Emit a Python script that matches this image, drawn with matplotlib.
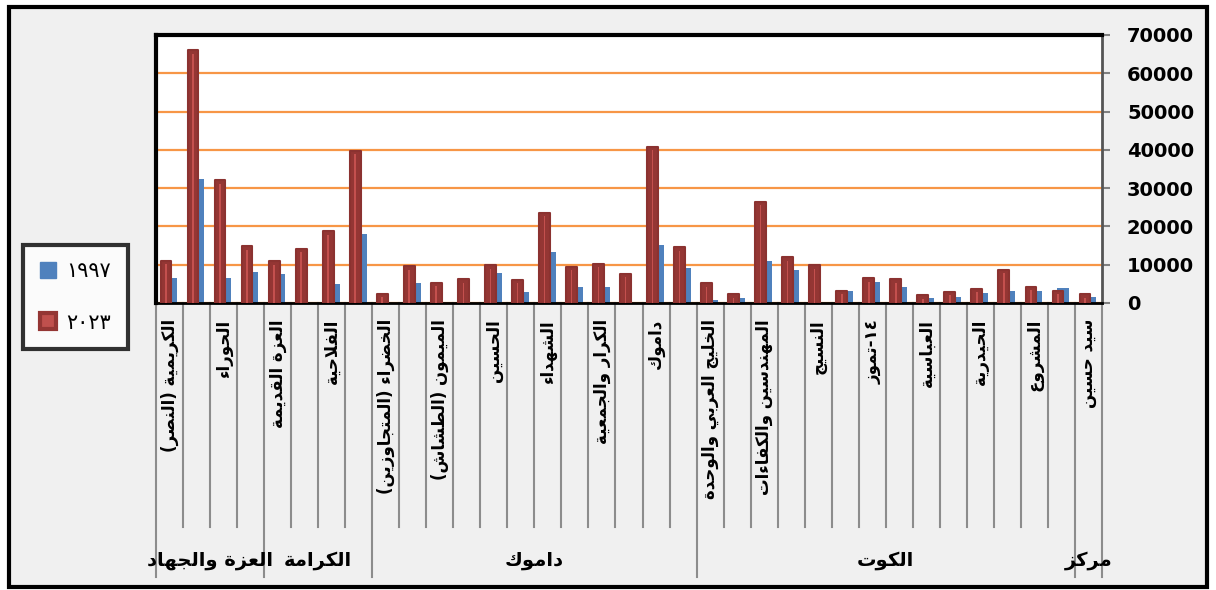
import re
import numpy as np
import matplotlib
matplotlib.use('Agg')
import matplotlib.pyplot as plt
import matplotlib.transforms as mtransforms
from matplotlib.patches import Rectangle, Patch

# ---- data ----
cat_labels = ['الكريمية (النصر)', '', 'الحوراء', '', 'العزة القديمة', '', 'الفلاحية', '',
              'الخضراء (المتجاوزين)', '', 'الميمون (الطشاش)', '', 'الحسين', '', 'الشهداء', '',
              'الكرار والجمعية', '', 'داموك', '', 'الخليج العربي والوحدة', '',
              'المهندسين والكفاءات', '', 'النسيج', '', '١٤-تموز', '', 'العباسية', '',
              'الحيدرية', '', 'المشروع', '', 'سيد حسين']
group_names = ['العزة والجهاد', 'الكرامة', 'داموك', 'الكوت', 'مركز']
group_sizes = [4, 4, 12, 14, 1]

pop_2023 = [11000, 66000, 32000, 14800, 10900, 14200, 18700, 39700, 2400, 9600,
            5300, 6200, 9900, 6000, 23500, 9500, 10200, 7700, 40800, 14500,
            5200, 2300, 26400, 12000, 9900, 3200, 6500, 6200, 2000, 2900,
            3700, 8700, 4200, 3200, 2300]
pop_1997 = [6500, 32400, 6500, 8200, 7600, 0, 5000, 18000, 0, 5200,
            0, 0, 7800, 2900, 13400, 4300, 4300, 0, 15200, 9200,
            800, 1200, 11000, 8500, 0, 3200, 5500, 4300, 1200, 1600,
            2700, 3200, 3200, 4000, 1500]
series_names = ['١٩٩٧', '٢٠٢٣']
y_ticks = [0, 10000, 20000, 30000, 40000, 50000, 60000, 70000]

# ---- tiny arabic shaper (matplotlib has no complex text layout) ----
FORMS = {'ء': (0xFE80, 1), 'آ': (0xFE81, 2), 'أ': (0xFE83, 2), 'ؤ': (0xFE85, 2),
         'إ': (0xFE87, 2), 'ئ': (0xFE89, 4), 'ا': (0xFE8D, 2), 'ب': (0xFE8F, 4),
         'ة': (0xFE93, 2), 'ت': (0xFE95, 4), 'ث': (0xFE99, 4), 'ج': (0xFE9D, 4),
         'ح': (0xFEA1, 4), 'خ': (0xFEA5, 4), 'د': (0xFEA9, 2), 'ذ': (0xFEAB, 2),
         'ر': (0xFEAD, 2), 'ز': (0xFEAF, 2), 'س': (0xFEB1, 4), 'ش': (0xFEB5, 4),
         'ص': (0xFEB9, 4), 'ض': (0xFEBD, 4), 'ط': (0xFEC1, 4), 'ظ': (0xFEC5, 4),
         'ع': (0xFEC9, 4), 'غ': (0xFECD, 4), 'ف': (0xFED1, 4), 'ق': (0xFED5, 4),
         'ك': (0xFED9, 4), 'ل': (0xFEDD, 4), 'م': (0xFEE1, 4), 'ن': (0xFEE5, 4),
         'ه': (0xFEE9, 4), 'و': (0xFEED, 2), 'ى': (0xFEEF, 2), 'ي': (0xFEF1, 4)}
LAM_ALEF = {'ا': 0xFEFB, 'أ': 0xFEF7, 'إ': 0xFEF9, 'آ': 0xFEF5}


def joins_left(c):
    return c in FORMS and FORMS[c][1] == 4


def joins_right(c):
    return c in FORMS and FORMS[c][1] >= 2


def shape(s):
    out = []
    i = 0
    while i < len(s):
        c = s[i]
        if c not in FORMS:
            out.append(c)
            i += 1
            continue
        prev = s[i - 1] if i > 0 else ''
        link_prev = joins_left(prev) and joins_right(c)
        if c == 'ل' and i + 1 < len(s) and s[i + 1] in LAM_ALEF:
            out.append(chr(LAM_ALEF[s[i + 1]] + (1 if link_prev else 0)))
            i += 2
            continue
        nxt = s[i + 1] if i + 1 < len(s) else ''
        link_next = joins_left(c) and joins_right(nxt)
        start = FORMS[c][0]
        if link_prev and link_next:
            code = start + 3
        elif link_prev:
            code = start + 1
        elif link_next:
            code = start + 2
        else:
            code = start
        out.append(chr(code))
        i += 1
    return ''.join(out)


def visual(s):
    tokens = re.findall(r'[0-9\u0660-\u0669]+|.', shape(s))
    mirror = {'(': ')', ')': '('}
    return ''.join(mirror.get(t, t) for t in tokens[::-1])


plt.rcParams['font.family'] = ['DejaVu Sans']

W, H = 1216, 590
fig = plt.figure(figsize=(W / 100, H / 100), dpi=100)
fig.patch.set_facecolor('white')
fig.add_artist(Rectangle((9 / W, 1 - 587 / H), (1207 - 9) / W, (587 - 7) / H,
                         transform=fig.transFigure, facecolor='#F0F0F0',
                         edgecolor='black', linewidth=3, zorder=-1))

ax = fig.add_axes([156 / W, 1 - 303 / H, (1102 - 156) / W, (303 - 35) / H])
ax.set_facecolor('white')

x = np.arange(len(pop_2023))
ax.bar(x + 0.07, pop_1997, width=0.44, color='#4F81BD', zorder=2)
ax.bar(x - 0.13, pop_2023, width=0.40, color='#943634', edgecolor='#8B3230',
       linewidth=1.5, joinstyle='round', zorder=3)
ax.bar(x - 0.13, np.maximum(np.array(pop_2023) - 900, 0), width=0.06,
       color='#C4504E', zorder=4)

ax.set_xlim(-0.5, len(x) - 0.5)
ax.set_ylim(0, 70000)
ax.set_yticks(y_ticks)
ax.yaxis.grid(True, color='#F79646', linewidth=1.6)
ax.set_axisbelow(True)
ax.yaxis.tick_right()
ax.tick_params(axis='y', length=6, width=1.5, color='#808080', pad=12, labelsize=14)
for t in ax.get_yticklabels():
    t.set_fontweight('bold')
ax.tick_params(axis='x', bottom=False, labelbottom=False)

ax.spines['top'].set_linewidth(3)
ax.spines['left'].set_linewidth(3)
ax.spines['bottom'].set_linewidth(2)
ax.spines['right'].set_linewidth(2)
ax.spines['right'].set_color('#555555')

# multi-level category axis
trans = mtransforms.blended_transform_factory(ax.transData, ax.transAxes)
group_edges = np.concatenate([[0], np.cumsum(group_sizes)]) - 0.5
for b in np.arange(len(x) + 1) - 0.5:
    low = -1.022 if b in group_edges else -0.836
    ax.plot([b, b], [0, low], transform=trans, color='#8C8C8C', lw=1.5, clip_on=False)

for i, lbl in enumerate(cat_labels):
    if lbl:
        ax.text(i, -0.06, visual(lbl), transform=trans, rotation=90, ha='center',
                va='top', fontsize=12, fontweight='bold')

for k, name in enumerate(group_names):
    mid = (group_edges[k] + group_edges[k + 1]) / 2
    ax.text(mid, -0.959, visual(name), transform=trans, ha='center', va='center',
            fontsize=14, fontweight='bold')

handles = [Patch(facecolor='#4F81BD', edgecolor='#4F81BD'),
           Patch(facecolor='#C0504D', edgecolor='#943634', linewidth=3, joinstyle='round')]
leg = fig.legend(handles=handles, labels=[visual(s) for s in series_names],
                 loc='center', bbox_to_anchor=(75.5 / W, 1 - 297 / H), fontsize=15,
                 labelspacing=1.5, handlelength=0.8, handleheight=0.8, handletextpad=0.5,
                 borderpad=0.8, fancybox=False, edgecolor='black', facecolor='white')
leg.get_frame().set_linewidth(3)

fig.savefig('out.png', dpi=100)
